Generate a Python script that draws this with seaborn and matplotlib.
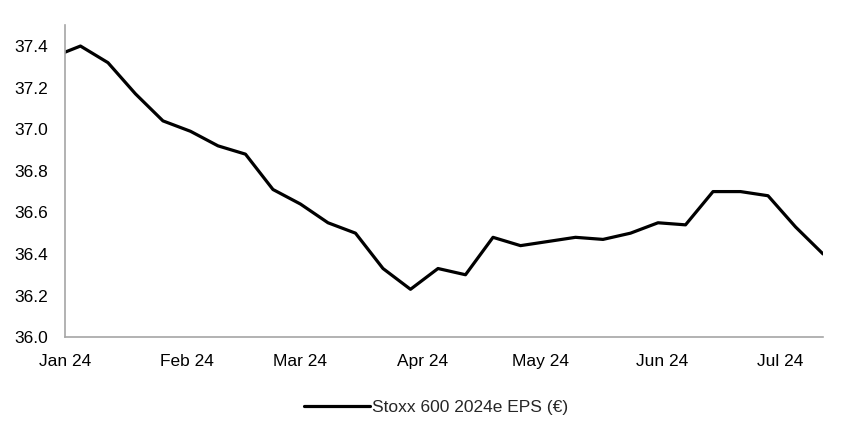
import pandas as pd
import matplotlib
matplotlib.use("Agg")
import matplotlib.pyplot as plt
import matplotlib.dates as mdates
import seaborn as sns

# weekly readings of the 2024e EPS estimate
dates = ["2024-01-01", "2024-01-05", "2024-01-12", "2024-01-19", "2024-01-26",
         "2024-02-02", "2024-02-09", "2024-02-16", "2024-02-23", "2024-03-01",
         "2024-03-08", "2024-03-15", "2024-03-22", "2024-03-29", "2024-04-05",
         "2024-04-12", "2024-04-19", "2024-04-26", "2024-05-03", "2024-05-10",
         "2024-05-17", "2024-05-24", "2024-05-31", "2024-06-07", "2024-06-14",
         "2024-06-21", "2024-06-28", "2024-07-05", "2024-07-12"]
eps = [37.37, 37.40, 37.32, 37.17, 37.04,
       36.99, 36.92, 36.88, 36.71, 36.64,
       36.55, 36.50, 36.33, 36.23, 36.33,
       36.30, 36.48, 36.44, 36.46, 36.48,
       36.47, 36.50, 36.55, 36.54, 36.70,
       36.70, 36.68, 36.53, 36.40]
series_label = "Stoxx 600 2024e EPS (€)"

df = pd.DataFrame({"date": pd.to_datetime(dates), "eps": eps})

sns.set_style("white")
plt.rcParams["font.family"] = ["Liberation Sans", "DejaVu Sans"]

fig, ax = plt.subplots(figsize=(8.52, 4.43), dpi=100)
fig.subplots_adjust(left=0.076, right=0.966, top=0.943, bottom=0.239)

sns.lineplot(data=df, x="date", y="eps", color="black", linewidth=2.3,
             label=series_label, ax=ax)

ax.set_xlim(pd.Timestamp("2024-01-01"), pd.Timestamp("2024-07-12"))
ax.set_ylim(36.0, 37.5)
ax.set_yticks([36.0, 36.2, 36.4, 36.6, 36.8, 37.0, 37.2, 37.4])
ax.yaxis.set_major_formatter(matplotlib.ticker.FormatStrFormatter("%.1f"))
ax.xaxis.set_major_locator(mdates.MonthLocator())
ax.xaxis.set_major_formatter(mdates.DateFormatter("%b %y"))
ax.set_xlabel("")
ax.set_ylabel("")

for side in ["top", "right"]:
    ax.spines[side].set_visible(False)
for side in ["left", "bottom"]:
    ax.spines[side].set_color("#a6a6a6")
    ax.spines[side].set_linewidth(1.2)
ax.tick_params(axis="both", which="major", direction="out", length=5, width=1.2,
               color="#a6a6a6", labelsize=12.5, labelcolor="black")
ax.tick_params(axis="y", pad=7)
ax.tick_params(axis="x", pad=7)

ax.legend(loc="upper center", bbox_to_anchor=(0.49, -0.15), frameon=False,
          fontsize=12.5, handlelength=3.8, handletextpad=0.1)

fig.savefig("out.png", dpi=100)
